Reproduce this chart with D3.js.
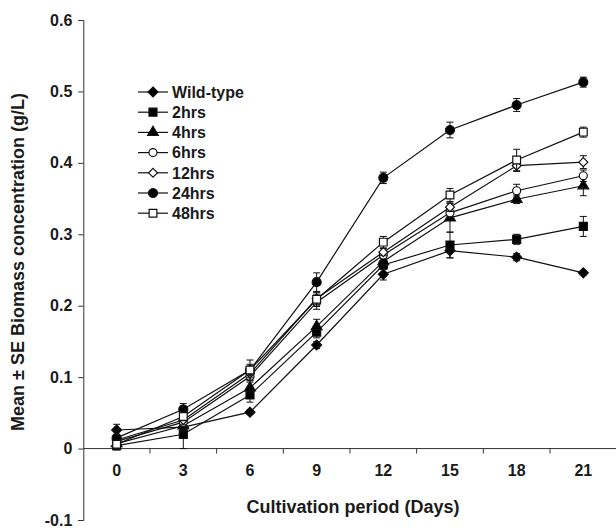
<html>
<head>
    <script src="https://d3js.org/d3.v7.min.js"></script>
    <style>
        body { margin: 0; background: #fff; }
        svg text { font-family: Arial, "Liberation Sans", sans-serif; font-weight: bold; fill: #1a1a1a; }
    </style>
</head>
<body>
<svg id="chart" width="616" height="528"></svg>
<script>
// cultivation days (categories)
const days = [0, 3, 6, 9, 12, 15, 18, 21];
const yTicks = [-0.1, 0, 0.1, 0.2, 0.3, 0.4, 0.5, 0.6];
const seriesNames = ["Wild-type", "2hrs", "4hrs", "6hrs", "12hrs", "24hrs", "48hrs"];

// mean biomass (g/L)
const wildType = [0.026, 0.030, 0.051, 0.145, 0.244, 0.277, 0.268, 0.246];
const hrs2     = [0.004, 0.020, 0.075, 0.163, 0.257, 0.285, 0.293, 0.311];
const hrs4     = [0.007, 0.032, 0.085, 0.171, 0.262, 0.323, 0.349, 0.368];
const hrs6     = [0.010, 0.037, 0.101, 0.205, 0.271, 0.330, 0.361, 0.382];
const hrs12    = [0.012, 0.040, 0.105, 0.210, 0.275, 0.338, 0.396, 0.401];
const hrs24    = [0.015, 0.055, 0.110, 0.233, 0.379, 0.446, 0.481, 0.513];
const hrs48    = [0.006, 0.045, 0.110, 0.209, 0.289, 0.355, 0.404, 0.443];

// standard errors
const seWild = [0.008, 0.004, 0.003, 0.005, 0.008, 0.010, 0.005, 0.003];
const se2    = [0.006, 0.020, 0.010, 0.008, 0.006, 0.018, 0.007, 0.014];
const se4    = [0.006, 0.008, 0.008, 0.010, 0.006, 0.020, 0.006, 0.014];
const se6    = [0.005, 0.006, 0.006, 0.010, 0.005, 0.006, 0.009, 0.008];
const se12   = [0.005, 0.006, 0.006, 0.008, 0.005, 0.006, 0.008, 0.009];
const se24   = [0.010, 0.008, 0.014, 0.013, 0.008, 0.011, 0.009, 0.007];
const se48   = [0.005, 0.006, 0.008, 0.010, 0.008, 0.009, 0.015, 0.007];

const means = [wildType, hrs2, hrs4, hrs6, hrs12, hrs24, hrs48];
const errs = [seWild, se2, se4, se6, se12, se24, se48];

// square diamond (d3's diamond is too tall)
const rhombus = {
    draw(ctx, size) {
        const r = Math.sqrt(size / 2);
        ctx.moveTo(0, -r);
        ctx.lineTo(r, 0);
        ctx.lineTo(0, r);
        ctx.lineTo(-r, 0);
        ctx.closePath();
    }
};

// marker styles per series
const markers = [
    { type: rhombus, size: 50, fill: "#000" },
    { type: d3.symbolSquare, size: 64, fill: "#000" },
    { type: d3.symbolTriangle, size: 50, fill: "#000" },
    { type: d3.symbolCircle, size: 50, fill: "#fff" },
    { type: rhombus, size: 40, fill: "#fff" },
    { type: d3.symbolCircle, size: 64, fill: "#000" },
    { type: d3.symbolSquare, size: 60, fill: "#fff" }
];

const series = seriesNames.map((name, i) => ({
    name: name,
    marker: markers[i],
    values: days.map((d, j) => ({ day: d, v: means[i][j], se: errs[i][j] }))
}));

const svg = d3.select("#chart");
const axisX0 = 83.3;
const bandW = 66.67;

const x = d3.scaleBand().domain(days).range([axisX0, axisX0 + bandW * days.length]).padding(0);
const cx = d => x(d) + x.bandwidth() / 2;
const y = d3.scaleLinear().domain([-0.1, 0.6]).range([520, 20]);

// y axis
const yAxis = d3.axisLeft(y)
    .tickValues(yTicks)
    .tickSize(5)
    .tickPadding(6)
    .tickFormat(d => d === 0 ? "0" : (d < 0 ? "-" : "") + Math.abs(d).toFixed(1));

const gy = svg.append("g")
    .attr("transform", `translate(${axisX0},0)`)
    .call(yAxis);
gy.selectAll("path, line").attr("stroke", "#333");
gy.selectAll("text").style("font-size", "16px");

// x axis line at y = 0
svg.append("line")
    .attr("x1", axisX0).attr("x2", 616)
    .attr("y1", y(0)).attr("y2", y(0))
    .attr("stroke", "#333");

// x ticks between categories
svg.append("g").selectAll("line")
    .data(days)
    .join("line")
    .attr("x1", d => x(d) + x.bandwidth())
    .attr("x2", d => x(d) + x.bandwidth())
    .attr("y1", y(0))
    .attr("y2", y(0) + 5)
    .attr("stroke", "#333");

// x tick labels
svg.append("g").selectAll("text")
    .data(days)
    .join("text")
    .attr("x", d => cx(d))
    .attr("y", y(0) + 27)
    .attr("text-anchor", "middle")
    .style("font-size", "16px")
    .text(d => d);

// axis titles
svg.append("text")
    .attr("x", 353)
    .attr("y", 513)
    .attr("text-anchor", "middle")
    .style("font-size", "18px")
    .text("Cultivation period (Days)");

svg.append("text")
    .attr("transform", "translate(24,262) rotate(-90)")
    .attr("text-anchor", "middle")
    .style("font-size", "18px")
    .text("Mean \u00b1 SE Biomass concentration (g/L)");

// lines
const line = d3.line().x(d => cx(d.day)).y(d => y(d.v));

const plot = svg.append("g");

series.forEach(s => {
    plot.append("path")
        .datum(s.values)
        .attr("fill", "none")
        .attr("stroke", "#111")
        .attr("stroke-width", 1.2)
        .attr("d", line);
});

// error bars + markers
series.forEach(s => {
    const g = plot.append("g");
    const eb = g.selectAll("g.eb")
        .data(s.values)
        .join("g")
        .attr("class", "eb");
    eb.append("line")
        .attr("x1", d => cx(d.day)).attr("x2", d => cx(d.day))
        .attr("y1", d => y(d.v - d.se)).attr("y2", d => y(d.v + d.se))
        .attr("stroke", "#111");
    eb.append("line")
        .attr("x1", d => cx(d.day) - 3.5).attr("x2", d => cx(d.day) + 3.5)
        .attr("y1", d => y(d.v + d.se)).attr("y2", d => y(d.v + d.se))
        .attr("stroke", "#111");
    eb.append("line")
        .attr("x1", d => cx(d.day) - 3.5).attr("x2", d => cx(d.day) + 3.5)
        .attr("y1", d => y(d.v - d.se)).attr("y2", d => y(d.v - d.se))
        .attr("stroke", "#111");

    g.selectAll("path")
        .data(s.values)
        .join("path")
        .attr("transform", d => `translate(${cx(d.day)},${y(d.v)})`)
        .attr("d", d3.symbol().type(s.marker.type).size(s.marker.size))
        .attr("fill", s.marker.fill)
        .attr("stroke", "#111")
        .attr("stroke-width", 1.2);
});

// legend
const legend = svg.append("g").attr("transform", "translate(138,92)");
const rows = legend.selectAll("g")
    .data(series)
    .join("g")
    .attr("transform", (d, i) => `translate(0,${i * 20.2})`);

rows.append("line")
    .attr("x1", 0).attr("x2", 30)
    .attr("stroke", "#111").attr("stroke-width", 1.2);
rows.append("path")
    .attr("transform", "translate(15,0)")
    .attr("d", d => d3.symbol().type(d.marker.type).size(d.marker.size)())
    .attr("fill", d => d.marker.fill)
    .attr("stroke", "#111")
    .attr("stroke-width", 1.2);
rows.append("text")
    .attr("x", 34)
    .attr("dy", "0.36em")
    .style("font-size", "16px")
    .text(d => d.name);
</script>
</body>
</html>
